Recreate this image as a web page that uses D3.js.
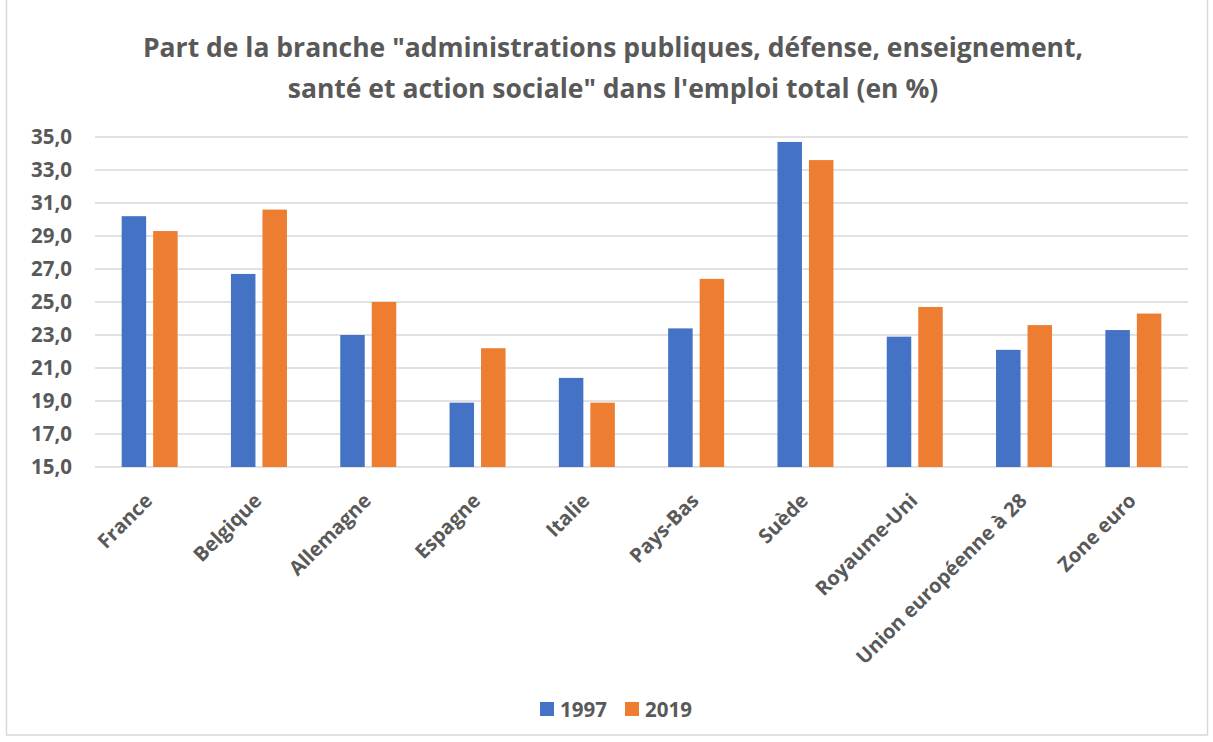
<!DOCTYPE html>
<html>
<head>
<meta charset="utf-8">
<script src="https://cdn.jsdelivr.net/npm/d3@7"></script>
<style>
  body { margin: 0; background: #fff; }
  text { font-family: "Open Sans", sans-serif; font-weight: bold; fill: #595959; }
</style>
</head>
<body>
<svg id="chart"></svg>
<script>
// Data
const categories = ['France', 'Belgique', 'Allemagne', 'Espagne', 'Italie', 'Pays-Bas', 'Suède', 'Royaume-Uni', 'Union européenne à 28', 'Zone euro'];
const series = ['1997', '2019'];
const values1997 = [30.2, 26.7, 23.0, 18.9, 20.4, 23.4, 34.7, 22.9, 22.1, 23.3];
const values2019 = [29.3, 30.6, 25.0, 22.2, 18.9, 26.4, 33.6, 24.7, 23.6, 24.3];
const yTicks = [15, 17, 19, 21, 23, 25, 27, 29, 31, 33, 35];
const colors = ['#4472C4', '#ED7D31'];
const titleLines = ['Part de la branche "administrations publiques, défense, enseignement,', 'santé et action sociale" dans l\'emploi total (en %)'];

const W = 1213, H = 742;
const margin = { top: 137, right: 25, bottom: 275, left: 95 };
const width = W - margin.left - margin.right;
const height = H - margin.top - margin.bottom;

const root = d3.select('#chart').attr('width', W).attr('height', H);

// Chart border
root.append('rect')
    .attr('x', 6.5).attr('y', -2).attr('width', W - 12).attr('height', H - 5)
    .attr('fill', 'none').attr('stroke', '#d9d9d9').attr('stroke-width', 1.5);

// Title
root.append('text')
    .attr('x', 613).attr('y', 57)
    .attr('text-anchor', 'middle')
    .style('font-size', '26.5px')
    .selectAll('tspan')
    .data(titleLines)
    .enter()
    .append('tspan')
    .attr('x', 613)
    .attr('dy', (d, i) => i === 0 ? 0 : 41)
    .text(d => d);

const svg = root.append('g')
    .attr('transform', `translate(${margin.left},${margin.top})`);

// Scales
const x0 = d3.scaleBand().domain(categories).range([0, width]).paddingInner(0).paddingOuter(0);
const barW = 24.5, gap = 7;
const x1 = d3.scaleOrdinal().domain(series).range([-(barW + gap / 2), gap / 2]);
const y = d3.scaleLinear().domain([15, 35]).range([height, 0]);

// Gridlines
svg.append('g')
    .selectAll('line')
    .data(yTicks)
    .enter()
    .append('line')
    .attr('x1', 0).attr('x2', width)
    .attr('y1', d => y(d)).attr('y2', d => y(d))
    .attr('stroke', '#d9d9d9').attr('stroke-width', 1.5);

// Y axis
const yAxis = svg.append('g')
    .call(d3.axisLeft(y).tickValues(yTicks).tickSize(0).tickPadding(23)
        .tickFormat(d => d3.format('.1f')(d).replace('.', ',')));
yAxis.select('.domain').remove();
yAxis.selectAll('text').style('font-size', '20.5px').attr('fill', '#595959');

// Bars
const data = categories.map((c, i) => ({ c, vals: [values1997[i], values2019[i]] }));
const groups = svg.selectAll('.grp')
    .data(data)
    .enter()
    .append('g')
    .attr('transform', d => `translate(${x0(d.c) + x0.bandwidth() / 2},0)`);

groups.selectAll('rect')
    .data(d => d.vals.map((v, j) => ({ s: series[j], v, j })))
    .enter()
    .append('rect')
    .attr('x', d => x1(d.s))
    .attr('y', d => y(d.v))
    .attr('width', barW)
    .attr('height', d => height - y(d.v))
    .attr('fill', d => colors[d.j]);

// X axis labels
const xAxis = svg.append('g')
    .attr('transform', `translate(0,${height})`)
    .call(d3.axisBottom(x0).tickSize(0).tickPadding(0));
xAxis.select('.domain').remove();
xAxis.selectAll('text')
    .style('font-size', '20px')
    .attr('fill', '#595959')
    .attr('text-anchor', 'end')
    .attr('y', 0)
    .attr('dy', 0)
    .attr('transform', 'translate(4,35) rotate(-45)');

// Legend
const legend = root.append('g').attr('transform', 'translate(540,709)');
const items = legend.selectAll('g')
    .data(series)
    .enter()
    .append('g')
    .attr('transform', (d, i) => `translate(${i * 85},0)`);
items.append('rect')
    .attr('x', 0).attr('y', -7).attr('width', 14).attr('height', 14)
    .attr('fill', (d, i) => colors[i]);
items.append('text')
    .attr('x', 20).attr('y', 7.5)
    .style('font-size', '20.5px')
    .text(d => d);
</script>
</body>
</html>
